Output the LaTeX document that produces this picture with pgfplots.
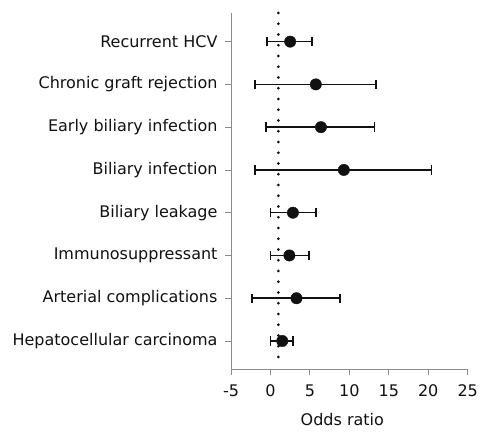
\documentclass[border=0pt]{standalone}
\usepackage{fontspec}
\setmainfont{DejaVu Sans}
\usepackage{pgfplots}
\usepackage{pgfplotstable}
\pgfplotsset{compat=1.18}
\pgfplotstableread{
pos or lo hi
8 2.5 -0.42 5.3
7 5.75 -1.95 13.35
6 6.4 -0.55 13.2
5 9.3 -1.95 20.4
4 2.85 0.0 5.75
3 2.4 0.0 4.85
2 3.3 -2.35 8.85
1 1.5 0.0 2.85
}\datatab
\definecolor{axgray}{HTML}{8C8C8C}
\definecolor{ink}{HTML}{111111}
\begin{document}
\begin{tikzpicture}[x=1pt,y=1pt]
\path[use as bounding box] (0,0) rectangle (480,433);
\begin{axis}[
  at={(231pt,64pt)}, anchor=south west,
  scale only axis, width=236.7pt, height=356pt,
  xmin=-5, xmax=25, ymin=0.345, ymax=8.67,
  axis x line=bottom, axis y line=left,
  axis line style={-, axgray, line width=0.8pt},
  tick style={axgray, line width=0.8pt},
  tick align=outside, major tick length=6pt,
  xtick={-5,0,...,25},
  ytick={1,...,8},
  yticklabels={Hepatocellular carcinoma,Arterial complications,Immunosuppressant,Biliary leakage,Biliary infection,Early biliary infection,Chronic graft rejection,Recurrent HCV},
  font=\fontsize{16}{19}\selectfont,
  /pgf/number format/assume math mode=true,
  ticklabel style={text=ink},
  yticklabel style={xshift=-4pt},
  xticklabel style={yshift=-6pt},
  xlabel={Odds ratio},
  xlabel style={text=ink, xshift=-7pt, yshift=-10pt},
  clip=false,
]
\addplot[ink, line width=3pt, line cap=round, dash pattern=on 0pt off 10.75pt]
  coordinates {(1,8.67) (1,0.44)};
\addplot[only marks, mark=*, mark size=5.7pt, ink,
  error bars/.cd, x dir=both, x explicit,
  error bar style={line width=1.6pt, ink},
  error mark=|, error mark options={mark size=4.7pt, line width=1.6pt, ink}]
  table[x=or, y=pos, x error minus expr=\thisrow{or}-\thisrow{lo}, x error plus expr=\thisrow{hi}-\thisrow{or}] {\datatab};
\end{axis}
\end{tikzpicture}
\end{document}
